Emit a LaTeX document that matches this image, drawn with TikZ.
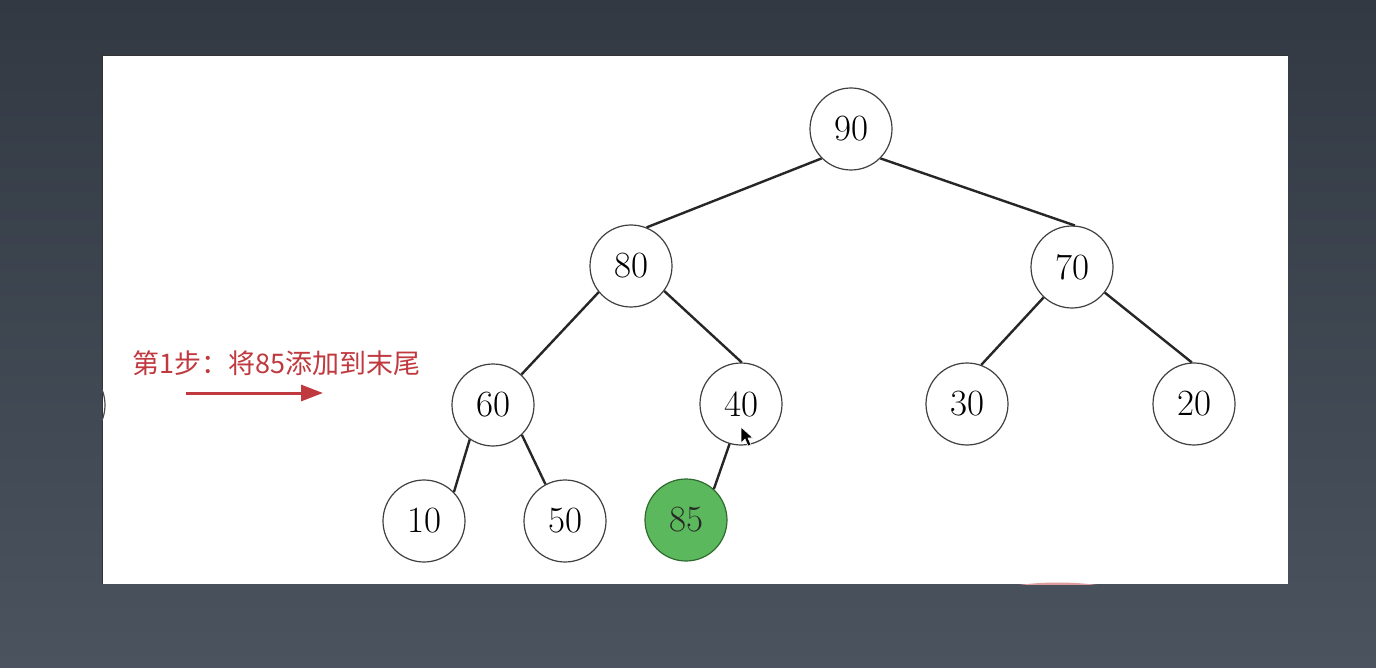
\documentclass[tikz,border=0pt]{standalone}
\usepackage{fontspec}
\newfontfamily\cjk{Noto Sans CJK SC}
\usetikzlibrary{arrows.meta}
\definecolor{bgtop}{HTML}{323943}
\definecolor{bgbot}{HTML}{4A535E}
\definecolor{labred}{HTML}{C0393F}
\definecolor{greenfill}{HTML}{5CB85C}
\definecolor{greenline}{HTML}{2F6B30}
\tikzset{
  heapnode/.style={circle, draw=black!75, line width=0.6pt, fill=white, minimum size=41pt, inner sep=0pt, font=\fontsize{18.5}{22}\selectfont},
  newnode/.style={heapnode, fill=greenfill, draw=greenline, text=black!85},
  edge/.style={draw=black!85, line width=1.2pt},
}
\begin{document}
\begin{tikzpicture}[x=0.5pt,y=-0.5pt]
\shade[top color=bgtop, bottom color=bgbot] (0,0) rectangle (1376,668);
\useasboundingbox (0,0) rectangle (1376,668);
\fill[white] (102,56) rectangle (1288,584);
\draw[black!80, line width=0.5pt] (102,584) -- (102,56) -- (1288,56);
% partial circle at left edge and faint arc at bottom
\begin{scope}
\clip (102,56) rectangle (1288,584);
\draw[black!70, line width=0.6pt] (64,405) circle[radius=41];
\draw[labred!50, line width=1.5pt] (1058,884) circle[radius=300];
\end{scope}
% nodes
\node[heapnode] (n90) at (851,129) {90};
\node[heapnode] (n80) at (631,266) {80};
\node[heapnode] (n70) at (1072,267) {70};
\node[heapnode] (n60) at (493,405) {60};
\node[heapnode] (n40) at (741,404) {40};
\node[heapnode] (n30) at (967,404) {30};
\node[heapnode] (n20) at (1194,404) {20};
\node[heapnode] (n10) at (424,521) {10};
\node[heapnode] (n50) at (565,521) {50};
\node[newnode] (n85) at (686,520) {85};
% edges
\draw[edge] (n90.-135) -- (n80.68);
\draw[edge] (n90.-45) -- (n70.86);
\draw[edge] (n80.-141) -- (n60.47);
\draw[edge] (n80.-37) -- (n40.89);
\draw[edge] (n70.-133) -- (n30.70);
\draw[edge] (n70.-38) -- (n20.93);
\draw[edge] (n60.-124) -- (n10.44);
\draw[edge] (n60.-46) -- (n50.118);
\draw[edge] (n40.-106) -- (n85.48);
% label and arrow
\node[text=labred, font=\cjk\fontsize{13.5}{16}\selectfont, anchor=west] (lab) at (125,363) {第1步：将85添加到末尾};
\coordinate (as) at (186,393);
\coordinate (ae) at (323,393);
\draw[labred, line width=1.5pt, -{Triangle[length=11pt,width=8pt]}] (as) -- (ae);
% mouse cursor
\filldraw[fill=black, draw=white, line width=0.3pt] (741,427) -- (741,443) -- (745,439) -- (748,446) -- (751,445) -- (748,438) -- (753,438) -- cycle;
\end{tikzpicture}
\end{document}
